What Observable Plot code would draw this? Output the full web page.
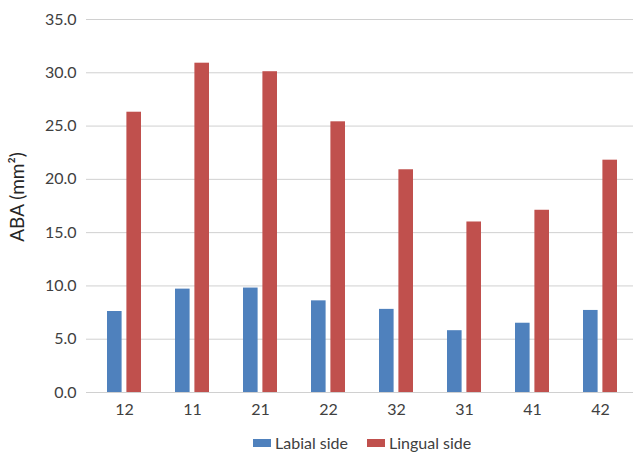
<!DOCTYPE html>
<html>
<head>
<meta charset="utf-8">
<script src="https://cdn.jsdelivr.net/npm/d3@7"></script>
<script src="https://cdn.jsdelivr.net/npm/@observablehq/plot@0.6"></script>
<style>
  html, body { margin: 0; padding: 0; background: #fff; }
  #wrap { position: relative; width: 633px; height: 453px; font-family: Lato, "Open Sans", sans-serif; }
  #legend { position: absolute; left: 253px; top: 433px; display: flex; align-items: center; font-size: 16px; color: #404040; }
  .item { display: flex; align-items: center; margin-right: 19px; }
  .sw { width: 18px; height: 8px; margin-right: 4px; }
</style>
</head>
<body>
<div id="wrap"><div id="chart"></div><div id="legend"></div></div>
<script>
const categories = ["12", "11", "21", "22", "32", "31", "41", "42"];
const labial = [7.6, 9.7, 9.8, 8.6, 7.8, 5.8, 6.5, 7.7];
const lingual = [26.3, 30.9, 30.1, 25.4, 20.9, 16.0, 17.1, 21.8];
const seriesNames = ["Labial side", "Lingual side"];
const colors = ["#4F81BD", "#C0504D"];
const yTicks = [0, 5, 10, 15, 20, 25, 30, 35];

const data = categories.map((c, i) => ({cat: c, labial: labial[i], lingual: lingual[i]}));

const chart = Plot.plot({
  width: 633,
  height: 430,
  marginLeft: 86,
  marginRight: -4,
  marginTop: 19,
  marginBottom: 38,
  style: {fontFamily: "Lato, 'Open Sans', sans-serif", fontSize: "16px", color: "#404040", background: "#fff"},
  x: {domain: categories, paddingInner: 0.5, paddingOuter: 0.25, label: null, tickSize: 0, tickPadding: 11},
  y: {domain: [0, 35], ticks: yTicks, tickFormat: d => d.toFixed(1), label: null, tickSize: 0, tickPadding: 10},
  marks: [
    Plot.ruleY(yTicks, {stroke: "#d0d0d0", strokeWidth: 1}),
    Plot.barY(data, {x: "cat", y: "labial", fill: colors[0], insetLeft: 0, insetRight: 19.4}),
    Plot.barY(data, {x: "cat", y: "lingual", fill: colors[1], insetLeft: 19.4, insetRight: 0}),
    Plot.text(["ABA (mm²)"], {frameAnchor: "left", textAnchor: "middle", dx: -69, dy: -9, rotate: -90, fontSize: 19, fill: "#262626"})
  ]
});
document.getElementById("chart").appendChild(chart);

const legend = document.getElementById("legend");
seriesNames.forEach((name, i) => {
  const item = document.createElement("div");
  item.className = "item";
  const sw = document.createElement("div");
  sw.className = "sw";
  sw.style.background = colors[i];
  const t = document.createElement("span");
  t.textContent = name;
  item.appendChild(sw);
  item.appendChild(t);
  legend.appendChild(item);
});
</script>
</body>
</html>
